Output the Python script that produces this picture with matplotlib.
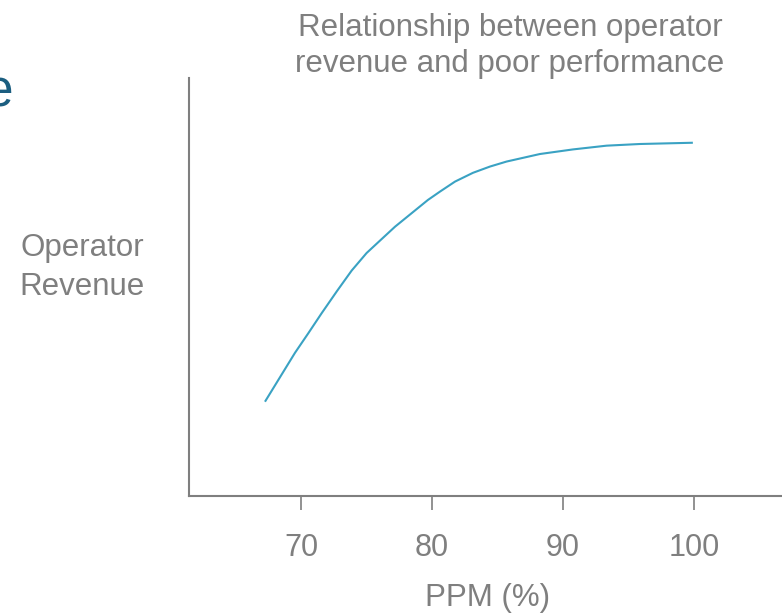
import matplotlib
matplotlib.use("Agg")
import matplotlib.pyplot as plt

plt.rcParams['font.family'] = ['Liberation Sans', 'DejaVu Sans']

# PPM (%) against operator revenue (arbitrary units, no scale shown)
ppm = [67.25, 69.54, 70.56, 71.58, 72.75, 73.87, 75.01, 76.18, 77.18, 79.69, 80.61,
       81.76, 83.13, 84.43, 85.70, 86.97, 88.24, 90.76, 93.33, 95.88, 99.92]
revenue = [22.5, 34.2, 38.9, 43.7, 49.0, 53.9, 58.1, 61.5, 64.4, 70.8, 72.8,
           75.2, 77.3, 78.8, 80.0, 80.9, 81.8, 82.9, 83.8, 84.2, 84.5]
x_ticks = [70, 80, 90, 100]

grey = '#7f7f7f'
W, H = 782, 613


def px(x, y):
    # figure fraction from pixel position (origin top-left)
    return x / W, 1 - y / H


fig = plt.figure(figsize=(W / 100, H / 100), dpi=100)
ax = fig.add_axes([189 / W, (H - 495.7) / H, (800 - 189) / W, (495.7 - 78) / H])

ax.plot(ppm, revenue, color='#3aa2c3', lw=1.5, solid_capstyle='butt',
        solid_joinstyle='round')

ax.set_xlim(61.45, 108.1)
ax.set_ylim(0, 100)
ax.set_xticks(x_ticks)
ax.set_xticklabels([str(t) for t in x_ticks])
ax.set_yticks([])

for side in ['top', 'right']:
    ax.spines[side].set_visible(False)
for side in ['left', 'bottom']:
    ax.spines[side].set_color(grey)
    ax.spines[side].set_linewidth(1.5)

ax.tick_params(axis='x', direction='out', length=10, width=1.2, color=grey,
               labelcolor=grey, labelsize=22, pad=17)

fs = 22.5
fig.text(*px(510, 36), 'Relationship between operator', ha='center', va='baseline',
         fontsize=fs, color=grey)
fig.text(*px(510, 72), 'revenue and poor performance', ha='center', va='baseline',
         fontsize=fs, color=grey)
fig.text(*px(82, 256), 'Operator', ha='center', va='baseline', fontsize=fs, color=grey)
fig.text(*px(82, 295), 'Revenue', ha='center', va='baseline', fontsize=fs, color=grey)
fig.text(*px(487.5, 606), 'PPM (%)', ha='center', va='baseline', fontsize=fs, color=grey)
fig.text(*px(13, 106), 'e', ha='right', va='baseline', fontsize=37, color='#1b5e80')

fig.savefig('out.png', dpi=100)
